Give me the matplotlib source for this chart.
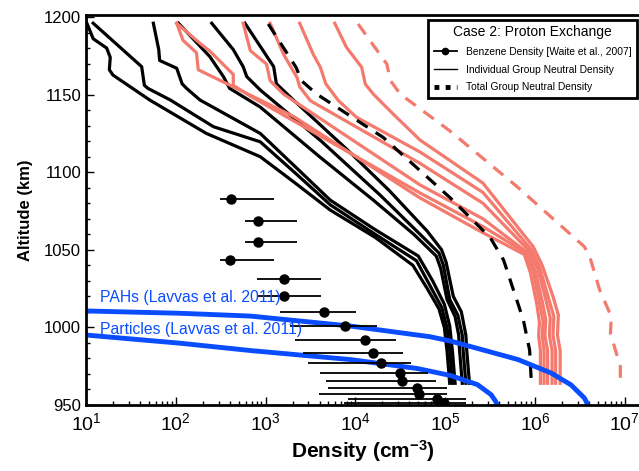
import numpy as np
import matplotlib
matplotlib.use("Agg")
import matplotlib.pyplot as plt
from matplotlib.lines import Line2D
from matplotlib.ticker import LogLocator, MultipleLocator

plt.rcParams['font.family'] = ['Liberation Sans', 'DejaVu Sans']
plt.rcParams['mathtext.default'] = 'regular'

# benzene density (Waite et al. 2007): density, altitude, error bar low/high
bz_n = [4.1e2, 8.2e2, 8.2e2, 4.05e2, 1.6e3, 1.6e3, 4.5e3, 7.7e3, 1.29e4, 1.57e4,
        1.95e4, 3.1e4, 3.3e4, 4.9e4, 5.15e4, 8.2e4, 9.7e4]
bz_alt = [1082.7, 1068.8, 1055.0, 1043.2, 1031.4, 1020.4, 1010.1, 1000.9, 991.9, 983.7,
          977.3, 970.8, 965.5, 961.2, 956.9, 953.9, 951.1]
bz_lo = [3.1e2, 5.9e2, 5.9e2, 3.1e2, 8.1e2, 8.1e2, 1.45e3, 1.86e3, 2.1e3, 2.6e3,
         2.95e3, 4.0e3, 4.7e3, 5.0e3, 3.9e3, 8.3e3, 7.4e3]
bz_hi = [1.23e3, 2.24e3, 2.24e3, 1.23e3, 4.1e3, 4.1e3, 1.02e4, 1.74e4, 2.8e4, 3.4e4,
         4.2e4, 6.5e4, 7.8e4, 1.05e5, 1.05e5, 1.7e5, 1.7e5]

# individual group neutral densities (log10 density vs altitude), black = this case
black_alt = [
    [1196, 1186, 1180, 1174, 1166, 1162.6, 1146.5, 1125, 1110, 1093, 1075.6, 1058, 1040, 1025, 1012, 1000, 985, 964],
    [1196, 1168, 1156, 1154, 1146.5, 1129.3, 1119.6, 1100, 1079, 1060, 1043, 1027, 1013, 1000, 985, 964],
    [1196, 1179, 1172, 1167, 1157, 1154, 1146.5, 1125, 1103, 1082, 1063, 1046, 1030, 1015, 1001, 985, 964],
    [1196, 1174.4, 1161.6, 1154, 1142, 1110, 1082, 1060, 1046, 1038, 1018, 1007, 995, 985, 964],
    [1196, 1179, 1168, 1161.6, 1153, 1120, 1085, 1060, 1048, 1040, 1018, 1008, 995, 985, 964],
    [1196, 1168, 1157, 1146.5, 1115, 1088, 1062, 1050, 1042, 1020, 1010, 995, 985, 964],
]
black_logn = [
    [1.01, 1.08, 1.23, 1.27, 1.26, 1.30, 1.71, 2.34, 2.94, 3.33, 3.72, 4.22, 4.64, 4.80, 4.93, 4.99, 5.02, 5.05],
    [1.08, 1.62, 1.65, 1.69, 1.94, 2.42, 2.94, 3.32, 3.72, 4.22, 4.68, 4.83, 4.96, 5.02, 5.05, 5.08],
    [1.75, 1.81, 1.82, 2.01, 2.07, 2.12, 2.27, 2.94, 3.34, 3.72, 4.22, 4.70, 4.86, 4.99, 5.05, 5.08, 5.11],
    [2.03, 2.38, 2.53, 2.60, 2.94, 3.60, 4.20, 4.65, 4.90, 4.95, 5.02, 5.11, 5.15, 5.16, 5.19],
    [2.40, 2.64, 2.75, 2.79, 2.94, 3.62, 4.28, 4.72, 4.93, 4.98, 5.05, 5.14, 5.19, 5.20, 5.23],
    [2.77, 3.09, 3.12, 3.31, 3.90, 4.38, 4.80, 4.96, 5.01, 5.09, 5.18, 5.23, 5.24, 5.27],
]
# salmon = comparison case
red_alt = [
    [1196, 1185, 1177, 1166, 1157, 1146.5, 1136, 1083.4, 1061, 1047, 1035, 1015, 1003, 995, 985, 964],
    [1196, 1183, 1178, 1163, 1156, 1149, 1086.6, 1065, 1048, 1036, 1016, 1004, 995, 985, 964],
    [1196, 1178.3, 1169.7, 1159, 1150.3, 1091.8, 1070, 1048, 1037, 1017, 1005, 995, 985, 964],
    [1196, 1176, 1161, 1155, 1146, 1105.7, 1080, 1049, 1038, 1018, 1006, 995, 985, 964],
    [1196, 1176, 1167.6, 1157, 1146.2, 1135.5, 1113, 1087, 1050, 1039, 1019, 1007, 995, 985, 964],
    [1196, 1180.5, 1167.6, 1156.8, 1150.3, 1137.5, 1120.7, 1093, 1052, 1040, 1020, 1008, 995, 985, 964],
]
red_logn = [
    [2.01, 2.08, 2.23, 2.25, 2.57, 2.94, 3.31, 4.72, 5.42, 5.88, 5.95, 6.02, 6.05, 6.04, 6.06, 6.06],
    [2.01, 2.27, 2.38, 2.64, 2.64, 2.83, 4.72, 5.42, 5.90, 5.98, 6.05, 6.09, 6.08, 6.10, 6.10],
    [2.75, 2.83, 3.01, 3.05, 3.20, 4.72, 5.42, 5.92, 6.00, 6.08, 6.12, 6.11, 6.14, 6.14],
    [3.05, 3.20, 3.35, 3.38, 3.50, 4.72, 5.42, 5.94, 6.03, 6.12, 6.17, 6.16, 6.19, 6.19],
    [3.38, 3.53, 3.61, 3.67, 3.81, 4.01, 4.72, 5.42, 5.96, 6.05, 6.15, 6.21, 6.20, 6.23, 6.23],
    [3.77, 3.90, 4.07, 4.11, 4.20, 4.42, 4.72, 5.42, 5.98, 6.08, 6.20, 6.26, 6.25, 6.28, 6.28],
]
# total group densities
tot_black_alt = [1195.5, 1167.5, 1158.9, 1150.3, 1122.4, 1083.8, 1058, 1043.4, 1024.1, 1004.8, 985.4, 964]
tot_black_logn = [3.03, 3.34, 3.40, 3.57, 4.31, 5.05, 5.50, 5.65, 5.76, 5.87, 5.94, 5.96]
tot_red_alt = [1195.5, 1169.7, 1159, 1150.3, 1126.7, 1090.7, 1052, 1045.5, 1024.1, 1006.9, 996.2, 974.8, 964]
tot_red_logn = [4.03, 4.35, 4.39, 4.50, 5.05, 5.80, 6.55, 6.61, 6.72, 6.85, 6.84, 6.95, 6.95]

# Lavvas et al. 2011
pah_logn = [1.0, 2.05, 2.83, 3.94, 4.83, 5.06, 5.81, 6.18, 6.40, 6.55, 6.59]
pah_alt = [1010.6, 1009.1, 1007.3, 1000.9, 994.0, 991.2, 979.3, 970.6, 963, 954.5, 950]
part_logn = [1.0, 2.05, 2.83, 3.94, 4.69, 5.06, 5.36, 5.51, 5.56, 5.58]
part_alt = [995.1, 989.8, 985.1, 979.3, 973.5, 969, 963.1, 956.7, 952.5, 950]

salmon = '#f47a6e'
blue = '#0a4dff'

fig = plt.figure(figsize=(6.39, 4.71), dpi=100)
ax = fig.add_axes([86/639, 66/471, 553/639, 390/471])

for a, n in zip(black_alt, black_logn):
    ax.plot(10**np.array(n), a, color='black', lw=2.3, solid_joinstyle='round')
for a, n in zip(red_alt, red_logn):
    ax.plot(10**np.array(n), a, color=salmon, lw=2.3)
ax.plot(10**np.array(tot_black_logn), tot_black_alt, color='black', lw=2.3, dashes=(4, 3))
ax.plot(10**np.array(tot_red_logn), tot_red_alt, color=salmon, lw=2.3, dashes=(4, 3))

ax.plot(10**np.array(pah_logn), pah_alt, color=blue, lw=3.5, solid_capstyle='butt')
ax.plot(10**np.array(part_logn), part_alt, color=blue, lw=3.5, solid_capstyle='butt')
ax.text(14.3, 1019, 'PAHs (Lavvas et al. 2011)', color=blue, fontsize=11.3, va='center')
ax.text(14.3, 998.5, 'Particles (Lavvas et al. 2011)', color=blue, fontsize=11.3, va='center')

bz_n = np.array(bz_n)
xerr = [bz_n - np.array(bz_lo), np.array(bz_hi) - bz_n]
ax.errorbar(bz_n, bz_alt, xerr=xerr, fmt='o', color='black', ms=6.5, elinewidth=1.3, capsize=0)

ax.set_xscale('log')
ax.set_xlim(10, 10**7.158)
ax.set_ylim(950, 1201.3)
ax.yaxis.set_major_locator(MultipleLocator(50))
ax.yaxis.set_minor_locator(MultipleLocator(10))
ax.xaxis.set_major_locator(LogLocator(base=10, numticks=10))
ax.xaxis.set_minor_locator(LogLocator(base=10, subs=np.arange(2, 10), numticks=20))
ax.tick_params(which='both', direction='in', top=False, right=False)
ax.tick_params(which='major', length=6, width=1)
ax.tick_params(which='minor', length=3, width=1)
ax.tick_params(axis='y', labelsize=12)
ax.tick_params(axis='x', labelsize=14, pad=5)
ax.spines['right'].set_visible(False)
for s in ['left', 'bottom', 'top']:
    ax.spines[s].set_linewidth(2)

ax.set_xlabel('Density (cm$^{-3}$)', fontsize=15, fontweight='bold', labelpad=3)
ax.set_ylabel('Altitude (km)', fontsize=12, fontweight='bold', labelpad=8)

handles = [
    Line2D([], [], color='black', lw=1.3, marker='o', ms=4.5),
    Line2D([], [], color='black', lw=1.0),
    Line2D([], [], color='black', lw=3.5, linestyle=(0, (1, 1.3))),
]
labels = ['Benzene Density [Waite et al., 2007]', 'Individual Group Neutral Density',
          'Total Group Neutral Density']
leg = ax.legend(handles, labels, title='Case 2: Proton Exchange', loc='upper right',
                bbox_to_anchor=(0.996, 0.988), fontsize=7.4, title_fontsize=10,
                frameon=True, fancybox=False, handlelength=2.3, borderpad=0.55,
                labelspacing=0.75, handletextpad=0.8, borderaxespad=0)
leg.get_frame().set_edgecolor('black')
leg.get_frame().set_linewidth(2)
leg.get_frame().set_alpha(1)

fig.savefig('out.png', dpi=100)
